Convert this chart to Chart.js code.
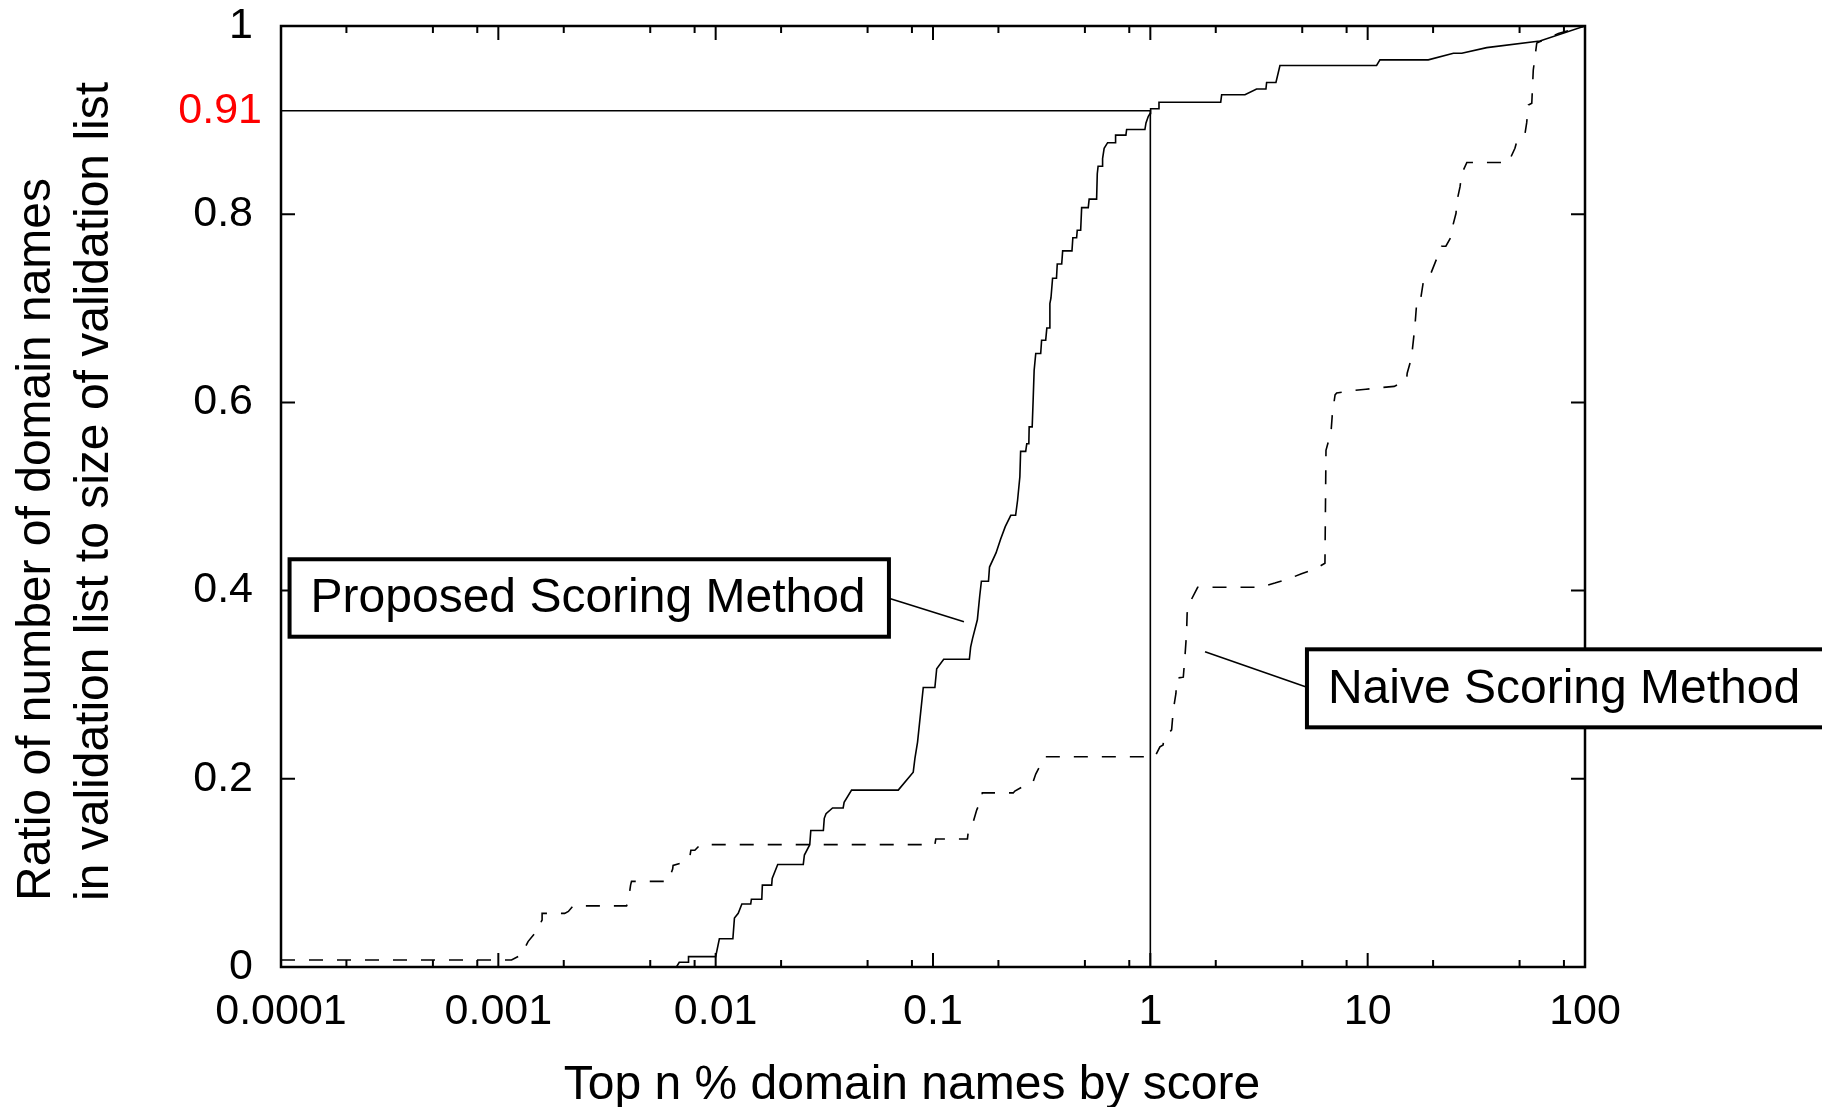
<!DOCTYPE html>
<html>
<head>
<meta charset="utf-8">
<script src="https://cdn.jsdelivr.net/npm/chart.js@4/dist/chart.umd.min.js"></script>
<style>
  body { margin: 0; background: #fff; }
  canvas { display: block; }
</style>
</head>
<body>
<canvas id="chart" width="1822" height="1107"></canvas>
<script>
// Top n % of domain names (log x) vs. ratio found in validation list
const proposedX = [0.0066, 0.0068, 0.0075, 0.0075, 0.0100, 0.0104, 0.0120, 0.0122, 0.0127, 0.0132,
  0.0145, 0.0146, 0.0163, 0.0164, 0.0181, 0.0182, 0.0193, 0.0253, 0.0256, 0.0271,
  0.0274, 0.0313, 0.0316, 0.0322, 0.0345, 0.0386, 0.0390, 0.0422, 0.0692, 0.0811,
  0.0826, 0.0849, 0.0902, 0.102, 0.104, 0.112, 0.147, 0.149, 0.152, 0.160,
  0.164, 0.167, 0.180, 0.182, 0.195, 0.205, 0.215, 0.228, 0.240, 0.245,
  0.251, 0.253, 0.267, 0.270, 0.276, 0.277, 0.286, 0.289, 0.292, 0.297,
  0.313, 0.316, 0.330, 0.334, 0.342, 0.345, 0.349, 0.355, 0.370, 0.373,
  0.391, 0.395, 0.436, 0.440, 0.458, 0.461, 0.478, 0.483, 0.518, 0.523,
  0.566, 0.570, 0.575, 0.601, 0.603, 0.613, 0.636, 0.688, 0.692, 0.772,
  0.778, 0.944, 0.955, 0.979, 0.997, 1.003, 1.087, 1.096, 2.108, 2.129,
  2.725, 3.083, 3.403, 3.428, 3.784, 3.948, 10.99, 11.39, 19.0, 24.8,
  27.1, 35.3, 62.0, 100];
const proposedY = [0, 0.005, 0.005, 0.011, 0.011, 0.030, 0.030, 0.052, 0.057, 0.067,
  0.067, 0.072, 0.072, 0.087, 0.087, 0.094, 0.109, 0.109, 0.119, 0.130,
  0.145, 0.145, 0.158, 0.163, 0.169, 0.169, 0.175, 0.188, 0.188, 0.207,
  0.222, 0.239, 0.297, 0.297, 0.317, 0.327, 0.327, 0.340, 0.349, 0.369,
  0.394, 0.410, 0.410, 0.425, 0.440, 0.455, 0.468, 0.480, 0.480, 0.496,
  0.521, 0.548, 0.548, 0.556, 0.556, 0.574, 0.574, 0.603, 0.634, 0.652,
  0.652, 0.666, 0.666, 0.679, 0.679, 0.705, 0.711, 0.732, 0.732, 0.747,
  0.747, 0.761, 0.761, 0.775, 0.775, 0.783, 0.783, 0.807, 0.807, 0.816,
  0.816, 0.843, 0.851, 0.851, 0.859, 0.870, 0.876, 0.876, 0.884, 0.884,
  0.890, 0.890, 0.897, 0.904, 0.907, 0.912, 0.912, 0.919, 0.919, 0.927,
  0.927, 0.933, 0.933, 0.940, 0.940, 0.958, 0.958, 0.964, 0.964, 0.971,
  0.971, 0.977, 0.984, 1.0];

const naiveX = [0.0001, 0.00115, 0.00128, 0.00137, 0.00150, 0.00159, 0.00159, 0.00202, 0.00210, 0.00221,
  0.00389, 0.00396, 0.00406, 0.00410, 0.00604, 0.00634, 0.00637, 0.00684, 0.00760, 0.00769,
  0.00802, 0.00850, 0.102, 0.103, 0.144, 0.145, 0.153, 0.159, 0.1675, 0.1686,
  0.234, 0.238, 0.279, 0.289, 0.297, 0.327, 1.05, 1.107, 1.145, 1.153,
  1.253, 1.275, 1.312, 1.321, 1.418, 1.443, 1.468, 1.477, 1.502, 1.651,
  3.19, 3.74, 4.39, 4.96, 5.72, 6.36, 6.43, 6.59, 6.76, 6.88,
  7.08, 7.20, 8.53, 9.82, 11.39, 13.25, 15.1, 15.2, 15.9, 16.5,
  16.8, 17.4, 18.0, 19.0, 20.8, 21.9, 22.9, 24.2, 24.6, 25.5,
  25.7, 26.6, 27.1, 28.6, 44.4, 47.6, 48.5, 53.0, 53.9, 54.9,
  56.9, 57.8, 60.0, 75.4, 100];
const naiveY = [0.0074, 0.0074, 0.013, 0.027, 0.038, 0.050, 0.057, 0.057, 0.059, 0.065,
  0.065, 0.069, 0.087, 0.091, 0.091, 0.104, 0.108, 0.110, 0.117, 0.124,
  0.124, 0.130, 0.130, 0.136, 0.136, 0.142, 0.154, 0.167, 0.179, 0.185,
  0.185, 0.187, 0.196, 0.197, 0.205, 0.2235, 0.2235, 0.234, 0.236, 0.243,
  0.252, 0.273, 0.291, 0.307, 0.308, 0.330, 0.355, 0.376, 0.385, 0.4035,
  0.4035, 0.408, 0.413, 0.418, 0.423, 0.429, 0.549, 0.558, 0.564, 0.588,
  0.608, 0.610, 0.6125, 0.614, 0.6156, 0.617, 0.624, 0.631, 0.647, 0.681,
  0.705, 0.705, 0.727, 0.730, 0.753, 0.766, 0.766, 0.776, 0.787, 0.801,
  0.813, 0.829, 0.843, 0.855, 0.855, 0.870, 0.877, 0.886, 0.897, 0.916,
  0.918, 0.953, 0.982, 0.992, 1.0];

// 0.91 marker at top 1 %
const markX = [0.0001, 1, 1];
const markY = [0.91, 0.91, 0];
const markLabel = '0.91';

const xTicks = [0.0001, 0.001, 0.01, 0.1, 1, 10, 100];
const xTickLabels = ['0.0001', '0.001', '0.01', '0.1', '1', '10', '100'];
const xMinorSteps = [2, 5, 8];
const yTicks = [0, 0.2, 0.4, 0.6, 0.8, 1];
const yTickLabels = ['0', '0.2', '0.4', '0.6', '0.8', '1'];

const xTitle = 'Top n % domain names by score';
const yTitle = ['Ratio of number of domain names', 'in validation list to size of validation list'];

// boxed labels, placed in data coordinates: [xLeft, xRight, yTop, yBottom]
const notes = [
  { text: 'Proposed Scoring Method', box: [0.0001095, 0.0627, 0.4333, 0.351], from: [0.0627, 0.3918], to: [0.1388, 0.367] },
  { text: 'Naive Scoring Method', box: [5.256, 2000, 0.3376, 0.2547], from: [5.256, 0.2972], to: [1.785, 0.3351] }
];

const FONT = "'Liberation Sans', Arial, Helvetica, sans-serif";

function zip(xs, ys) {
  return xs.map((v, i) => ({ x: v, y: ys[i] }));
}

const frameAndNotes = {
  id: 'frameAndNotes',
  afterDatasetsDraw(chart) {
    const { ctx, chartArea: a, scales: { x, y } } = chart;
    ctx.save();
    ctx.strokeStyle = '#000';
    ctx.lineWidth = 2;
    ctx.beginPath();
    // x ticks, inward on bottom and top
    for (let d = 0; d < xTicks.length; d++) {
      const px = x.getPixelForValue(xTicks[d]);
      ctx.moveTo(px, a.bottom); ctx.lineTo(px, a.bottom - 14);
      ctx.moveTo(px, a.top); ctx.lineTo(px, a.top + 14);
      if (d === xTicks.length - 1) break;
      xMinorSteps.forEach(s => {
        const mx = x.getPixelForValue(xTicks[d] * s);
        ctx.moveTo(mx, a.bottom); ctx.lineTo(mx, a.bottom - 7);
        ctx.moveTo(mx, a.top); ctx.lineTo(mx, a.top + 7);
      });
    }
    // y ticks, inward on left and right
    yTicks.forEach(v => {
      const py = y.getPixelForValue(v);
      ctx.moveTo(a.left, py); ctx.lineTo(a.left + 14, py);
      ctx.moveTo(a.right, py); ctx.lineTo(a.right - 14, py);
    });
    ctx.stroke();

    ctx.lineWidth = 2.5;
    ctx.strokeRect(a.left, a.top, a.right - a.left, a.bottom - a.top);

    // red 0.91 label
    ctx.font = '43px ' + FONT;
    ctx.fillStyle = '#ff0000';
    ctx.textAlign = 'right';
    ctx.textBaseline = 'middle';
    ctx.fillText(markLabel, a.left - 19, y.getPixelForValue(markY[0]));

    // labels with leader lines
    ctx.font = '48px ' + FONT;
    ctx.textAlign = 'left';
    notes.forEach(n => {
      ctx.lineWidth = 1.6;
      ctx.beginPath();
      ctx.moveTo(x.getPixelForValue(n.from[0]), y.getPixelForValue(n.from[1]));
      ctx.lineTo(x.getPixelForValue(n.to[0]), y.getPixelForValue(n.to[1]));
      ctx.stroke();
      const l = x.getPixelForValue(n.box[0]);
      const r = x.getPixelForValue(n.box[1]);
      const t = y.getPixelForValue(n.box[2]);
      const b = y.getPixelForValue(n.box[3]);
      ctx.fillStyle = '#fff';
      ctx.fillRect(l, t, r - l, b - t);
      ctx.lineWidth = 4;
      ctx.strokeRect(l, t, r - l, b - t);
      ctx.fillStyle = '#000';
      ctx.fillText(n.text, l + 21, (t + b) / 2 + 1);
    });

    // axis titles
    ctx.textBaseline = 'alphabetic';
    ctx.textAlign = 'center';
    ctx.fillText(xTitle, (a.left + a.right) / 2 - 21, 1099);
    ctx.textAlign = 'left';
    ctx.save();
    ctx.translate(50, 901);
    ctx.rotate(-Math.PI / 2);
    ctx.fillText(yTitle[0], 0, 0);
    ctx.fillText(yTitle[1], 0, 58);
    ctx.restore();
    ctx.restore();
  }
};

new Chart(document.getElementById('chart'), {
  type: 'line',
  data: {
    datasets: [
      {
        label: 'Proposed Scoring Method',
        data: zip(proposedX, proposedY),
        borderColor: '#000',
        borderWidth: 1.6,
        pointRadius: 0,
        fill: false
      },
      {
        label: 'Naive Scoring Method',
        data: zip(naiveX, naiveY),
        borderColor: '#000',
        borderWidth: 1.6,
        borderDash: [14, 14],
        pointRadius: 0,
        fill: false
      },
      {
        label: '0.91 at 1%',
        data: zip(markX, markY),
        borderColor: '#000',
        borderWidth: 1.6,
        pointRadius: 0,
        fill: false
      }
    ]
  },
  options: {
    responsive: false,
    devicePixelRatio: 1,
    animation: false,
    layout: { padding: { left: 0, top: 26, right: 237, bottom: 0 } },
    plugins: {
      legend: { display: false },
      tooltip: { enabled: false }
    },
    scales: {
      x: {
        type: 'logarithmic',
        min: 0.0001,
        max: 100,
        grid: { display: false, drawTicks: false },
        border: { display: false },
        afterBuildTicks: scale => {
          scale.ticks = xTicks.map(v => ({ value: v }));
        },
        afterFit: scale => {
          scale.height = 140;
          scale.paddingLeft = 0;
          scale.paddingRight = 0;
        },
        ticks: {
          autoSkip: false,
          maxRotation: 0,
          padding: 19,
          color: '#000',
          font: { family: FONT, size: 43, lineHeight: 1.2 },
          callback: v => xTickLabels[xTicks.indexOf(v)]
        }
      },
      y: {
        type: 'linear',
        min: 0,
        max: 1,
        grid: { display: false, drawTicks: false },
        border: { display: false },
        afterBuildTicks: scale => {
          scale.ticks = yTicks.map(v => ({ value: v }));
        },
        afterFit: scale => {
          scale.width = 281;
          scale.paddingTop = 0;
          scale.paddingBottom = 0;
        },
        ticks: {
          padding: 28,
          color: '#000',
          font: { family: FONT, size: 43, lineHeight: 1.2 },
          callback: v => yTickLabels[yTicks.indexOf(v)]
        }
      }
    }
  },
  plugins: [frameAndNotes]
});
</script>
</body>
</html>
